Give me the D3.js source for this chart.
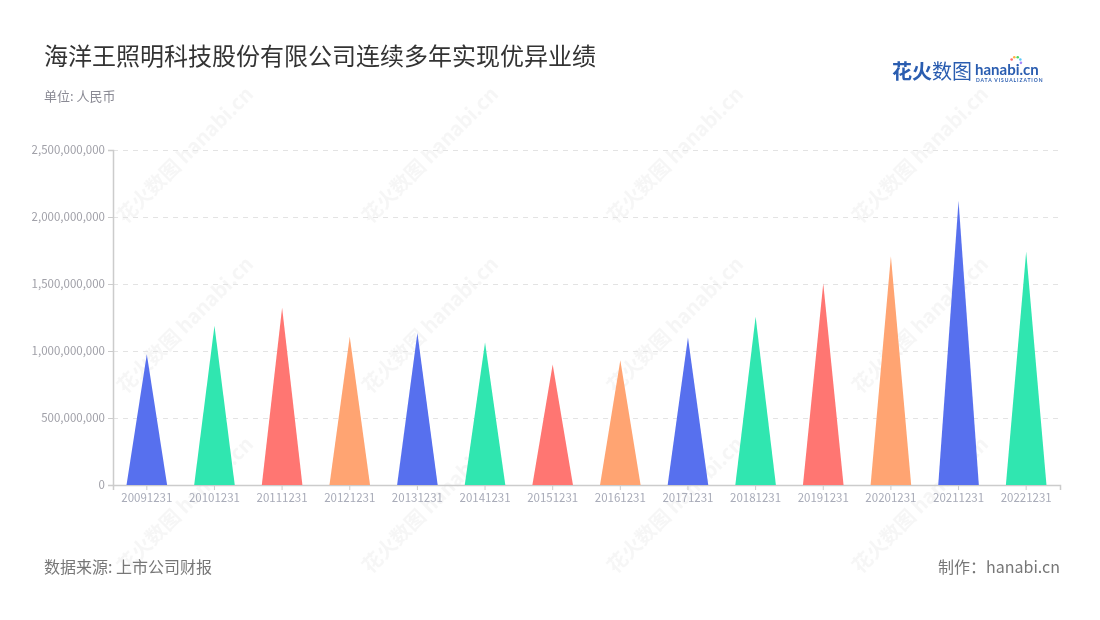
<!DOCTYPE html>
<html><head><meta charset="utf-8">
<script src="https://cdn.jsdelivr.net/npm/d3@7"></script>
<style>body{margin:0;background:#fff}svg{font-family:"Noto Sans CJK SC","Noto Sans",sans-serif}</style>
</head><body><svg id="c" width="1100" height="620"></svg>
<script>
const categories = ["20091231","20101231","20111231","20121231","20131231","20141231","20151231","20161231","20171231","20181231","20191231","20201231","20211231","20221231"];
const values = [975000000,1188000000,1322000000,1106000000,1135000000,1063000000,899000000,931000000,1100000000,1255000000,1504000000,1708000000,2119000000,1741000000];
const yTicks = [0,500000000,1000000000,1500000000,2000000000,2500000000];
const palette = ["#5770EE","#30E6B0","#FF7672","#FFA472"];

const svg = d3.select("#c");
const M = {l:113, r:1060, t:150, b:485};
const x = d3.scaleBand().domain(categories).range([M.l, M.r]);
const y = d3.scaleLinear().domain([0,2500000000]).range([M.b, M.t]);

// watermarks
const wm = svg.append("g").attr("opacity",0.35);
[[190,160],[435,160],[680,160],[925,160],[190,330],[435,330],[680,330],[925,330],[190,510],[435,510],[680,510],[925,510]].forEach(([cx,cy])=>{
  const g = wm.append("g").attr("transform",`translate(${cx},${cy}) rotate(-45)`);
  g.append("text").attr("text-anchor","middle").attr("font-size",20).attr("font-weight","bold").attr("fill","#e6e6e6").text("花火数图 hanabi.cn");
});

// grid
svg.append("g").selectAll("line").data(yTicks.filter(d=>d>0)).join("line")
  .attr("x1",M.l).attr("x2",M.r).attr("y1",d=>y(d)+0.5).attr("y2",d=>y(d)+0.5)
  .attr("stroke","#e3e3e3").attr("stroke-dasharray","5,5");

// y axis
const ya = svg.append("g").attr("transform",`translate(${M.l},0)`)
  .call(d3.axisLeft(y).tickValues(yTicks).tickFormat(d3.format(",")).tickSize(5).tickPadding(3));
ya.select(".domain").attr("stroke","#ccc").attr("stroke-width",1.5);
ya.selectAll(".tick line").attr("stroke","#ccc");
ya.selectAll("text").attr("fill","#a0a0a8").attr("font-size",11.5).attr("font-family","'Noto Sans CJK SC',sans-serif");

// x axis
const xa = svg.append("g").attr("transform",`translate(0,${M.b})`)
  .call(d3.axisBottom(x).tickSizeOuter(0).tickSize(5).tickPadding(4));
xa.select(".domain").attr("stroke","#ccc").attr("stroke-width",1.5);
xa.selectAll(".tick line").attr("stroke","#ccc");
xa.selectAll("text").attr("fill","#a8abb8").attr("font-size",11.5).attr("font-family","'Noto Sans CJK SC',sans-serif");

// peaks
const bw = x.bandwidth()*0.6;
svg.append("g").selectAll("path").data(values).join("path")
  .attr("d",(d,i)=>{
    const cx = x(categories[i]) + x.bandwidth()/2;
    return `M${cx-bw/2},${y(0)} L${cx},${y(d)} L${cx+bw/2},${y(0)} Z`;
  })
  .attr("fill",(d,i)=>palette[i%4]);

// titles
svg.append("text").attr("x",44).attr("y",65).attr("font-size",24).attr("fill","#333").text("海洋王照明科技股份有限公司连续多年实现优异业绩");
svg.append("text").attr("x",44).attr("y",101).attr("font-size",13).attr("fill","#8a8a94").text("单位: 人民币");
svg.append("text").attr("x",44).attr("y",573).attr("font-size",16).attr("fill","#777").text("数据来源: 上市公司财报");
svg.append("text").attr("x",1060).attr("y",573).attr("text-anchor","end").attr("font-size",16).attr("fill","#777").text("制作：hanabi.cn");

// logo
const lg = svg.append("g");
lg.append("text").attr("x",892).attr("y",79).attr("font-size",20).attr("font-weight","bold").attr("fill","#2a5db0").text("花火");
lg.append("text").attr("x",932).attr("y",79).attr("font-size",20).attr("fill","#2a5db0").text("数图");
lg.append("text").attr("x",975).attr("y",75).attr("font-size",15).attr("font-weight","bold").attr("fill","#2a5db0").attr("font-family","Lato,sans-serif").text("hanabi.cn");
lg.append("text").attr("x",976).attr("y",82).attr("font-size",5).attr("font-weight","bold").attr("fill","#2a5db0").attr("letter-spacing",0.9).attr("font-family","Lato,sans-serif").text("DATA VISUALIZATION");
[["#ff6b6b",-60],["#ffb347",-20],["#4cd964",20],["#5ac8fa",60],["#a78bfa",100]].forEach(([c,a])=>{
  const r=a*Math.PI/180;
  lg.append("circle").attr("cx",1016+5*Math.sin(r)).attr("cy",62-5*Math.cos(r)).attr("r",1.3).attr("fill",c);
});
</script></body></html>
